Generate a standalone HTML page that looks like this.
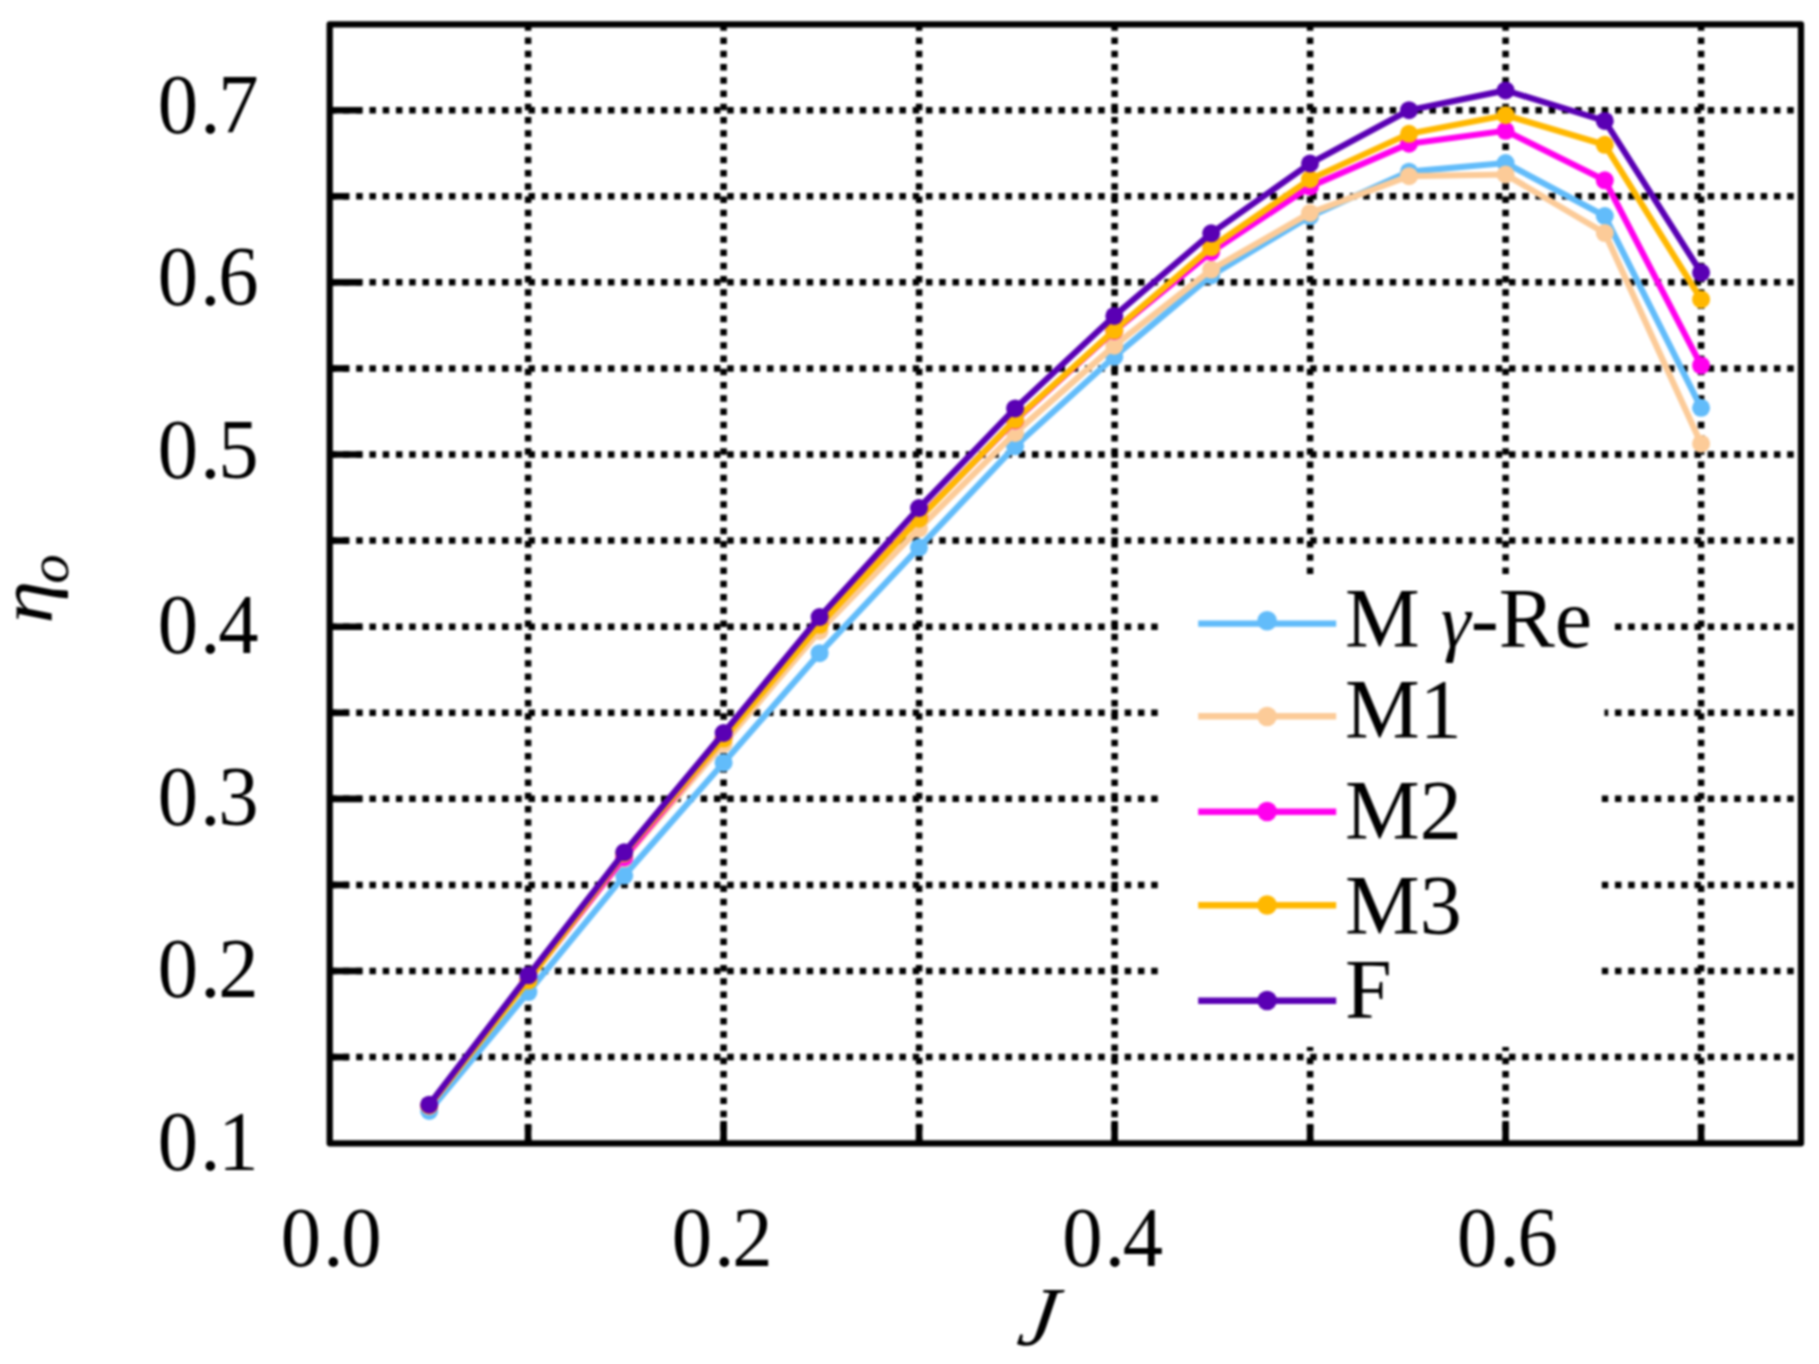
<!DOCTYPE html>
<html lang="en">
<head>
<meta charset="utf-8">
<title>Open-water efficiency versus advance coefficient</title>
<style>
html,body{margin:0;padding:0;background:#fff;}
body{width:1819px;height:1364px;overflow:hidden;}
svg text{white-space:pre;}
svg{filter:blur(1.2px);}
</style>
</head>
<body>
<svg width="1819" height="1364" viewBox="0 0 1819 1364" style="display:block">
<rect width="1819" height="1364" fill="#fff"/>
<g stroke="#000" stroke-width="6.5" stroke-dasharray="6.5 6.75" fill="none">
<line x1="329.7" y1="1057.08" x2="1801.0" y2="1057.08"/>
<line x1="329.7" y1="971.00" x2="1801.0" y2="971.00"/>
<line x1="329.7" y1="884.92" x2="1801.0" y2="884.92"/>
<line x1="329.7" y1="798.84" x2="1801.0" y2="798.84"/>
<line x1="329.7" y1="712.76" x2="1801.0" y2="712.76"/>
<line x1="329.7" y1="626.68" x2="1801.0" y2="626.68"/>
<line x1="329.7" y1="540.60" x2="1801.0" y2="540.60"/>
<line x1="329.7" y1="454.52" x2="1801.0" y2="454.52"/>
<line x1="329.7" y1="368.44" x2="1801.0" y2="368.44"/>
<line x1="329.7" y1="282.36" x2="1801.0" y2="282.36"/>
<line x1="329.7" y1="196.28" x2="1801.0" y2="196.28"/>
<line x1="329.7" y1="110.20" x2="1801.0" y2="110.20"/>
<line x1="528.10" y1="24.3" x2="528.10" y2="1143.3"/>
<line x1="723.60" y1="24.3" x2="723.60" y2="1143.3"/>
<line x1="919.10" y1="24.3" x2="919.10" y2="1143.3"/>
<line x1="1114.60" y1="24.3" x2="1114.60" y2="1143.3"/>
<line x1="1310.10" y1="24.3" x2="1310.10" y2="1143.3"/>
<line x1="1505.60" y1="24.3" x2="1505.60" y2="1143.3"/>
<line x1="1701.10" y1="24.3" x2="1701.10" y2="1143.3"/>
</g>
<g stroke="#000" stroke-width="6.6" fill="none">
<line x1="329.7" y1="1057.08" x2="348.6" y2="1057.08"/>
<line x1="329.7" y1="971.00" x2="361.8" y2="971.00"/>
<line x1="329.7" y1="884.92" x2="348.6" y2="884.92"/>
<line x1="329.7" y1="798.84" x2="361.8" y2="798.84"/>
<line x1="329.7" y1="712.76" x2="348.6" y2="712.76"/>
<line x1="329.7" y1="626.68" x2="361.8" y2="626.68"/>
<line x1="329.7" y1="540.60" x2="348.6" y2="540.60"/>
<line x1="329.7" y1="454.52" x2="361.8" y2="454.52"/>
<line x1="329.7" y1="368.44" x2="348.6" y2="368.44"/>
<line x1="329.7" y1="282.36" x2="361.8" y2="282.36"/>
<line x1="329.7" y1="196.28" x2="348.6" y2="196.28"/>
<line x1="329.7" y1="110.20" x2="361.8" y2="110.20"/>
<line x1="528.10" y1="1143.3" x2="528.10" y2="1124.4"/>
<line x1="723.60" y1="1143.3" x2="723.60" y2="1121.0"/>
<line x1="919.10" y1="1143.3" x2="919.10" y2="1124.4"/>
<line x1="1114.60" y1="1143.3" x2="1114.60" y2="1121.0"/>
<line x1="1310.10" y1="1143.3" x2="1310.10" y2="1124.4"/>
<line x1="1505.60" y1="1143.3" x2="1505.60" y2="1121.0"/>
<line x1="1701.10" y1="1143.3" x2="1701.10" y2="1124.4"/>
</g>
<rect x="1161" y="577" width="440.5" height="470" fill="#fff"/>
<rect x="1500" y="600" width="111" height="60" fill="#fff"/>
<rect x="1500" y="690" width="104.5" height="50" fill="#fff"/>
<polyline points="429.2,1110.9 528.4,992.1 624.2,875.6 723.6,762.7 819.6,653.2 919.0,547.6 1015.1,446.3 1114.3,356.7 1211.2,275.5 1310.0,216.3 1409.0,171.7 1505.6,163.0 1604.8,216.0 1701.1,407.8" fill="none" stroke="#62bcfa" stroke-width="6.2" stroke-linejoin="round" stroke-linecap="round"/>
<g fill="#62bcfa"><circle cx="429.2" cy="1110.9" r="9.0"/><circle cx="528.4" cy="992.1" r="9.0"/><circle cx="624.2" cy="875.6" r="9.0"/><circle cx="723.6" cy="762.7" r="9.0"/><circle cx="819.6" cy="653.2" r="9.0"/><circle cx="919.0" cy="547.6" r="9.0"/><circle cx="1015.1" cy="446.3" r="9.0"/><circle cx="1114.3" cy="356.7" r="9.0"/><circle cx="1211.2" cy="275.5" r="9.0"/><circle cx="1310.0" cy="216.3" r="9.0"/><circle cx="1409.0" cy="171.7" r="9.0"/><circle cx="1505.6" cy="163.0" r="9.0"/><circle cx="1604.8" cy="216.0" r="9.0"/><circle cx="1701.1" cy="407.8" r="9.0"/></g>
<polyline points="429.2,1106.0 528.4,979.5 624.2,858.5 723.6,743.6 819.6,630.9 919.0,528.6 1015.1,432.9 1114.3,345.7 1211.2,269.6 1310.0,213.0 1409.0,176.2 1505.6,174.5 1604.8,233.1 1701.1,443.7" fill="none" stroke="#fccb98" stroke-width="6.2" stroke-linejoin="round" stroke-linecap="round"/>
<g fill="#fccb98"><circle cx="429.2" cy="1106.0" r="9.0"/><circle cx="528.4" cy="979.5" r="9.0"/><circle cx="624.2" cy="858.5" r="9.0"/><circle cx="723.6" cy="743.6" r="9.0"/><circle cx="819.6" cy="630.9" r="9.0"/><circle cx="919.0" cy="528.6" r="9.0"/><circle cx="1015.1" cy="432.9" r="9.0"/><circle cx="1114.3" cy="345.7" r="9.0"/><circle cx="1211.2" cy="269.6" r="9.0"/><circle cx="1310.0" cy="213.0" r="9.0"/><circle cx="1409.0" cy="176.2" r="9.0"/><circle cx="1505.6" cy="174.5" r="9.0"/><circle cx="1604.8" cy="233.1" r="9.0"/><circle cx="1701.1" cy="443.7" r="9.0"/></g>
<polyline points="429.2,1105.5 528.4,979.5 624.2,857.2 723.6,738.0 819.6,624.0 919.0,518.0 1015.1,420.5 1114.3,331.0 1211.2,252.0 1310.0,186.6 1409.0,143.7 1505.6,130.8 1604.8,180.3 1701.1,365.4" fill="none" stroke="#ff00ee" stroke-width="6.2" stroke-linejoin="round" stroke-linecap="round"/>
<g fill="#ff00ee"><circle cx="429.2" cy="1105.5" r="9.0"/><circle cx="528.4" cy="979.5" r="9.0"/><circle cx="624.2" cy="857.2" r="9.0"/><circle cx="723.6" cy="738.0" r="9.0"/><circle cx="819.6" cy="624.0" r="9.0"/><circle cx="919.0" cy="518.0" r="9.0"/><circle cx="1015.1" cy="420.5" r="9.0"/><circle cx="1114.3" cy="331.0" r="9.0"/><circle cx="1211.2" cy="252.0" r="9.0"/><circle cx="1310.0" cy="186.6" r="9.0"/><circle cx="1409.0" cy="143.7" r="9.0"/><circle cx="1505.6" cy="130.8" r="9.0"/><circle cx="1604.8" cy="180.3" r="9.0"/><circle cx="1701.1" cy="365.4" r="9.0"/></g>
<polyline points="429.2,1105.5 528.4,980.6 624.2,853.5 723.6,738.6 819.6,624.8 919.0,518.7 1015.1,419.8 1114.3,330.3 1211.2,247.3 1310.0,179.2 1409.0,133.8 1505.6,115.2 1604.8,144.8 1701.1,299.4" fill="none" stroke="#ffb800" stroke-width="6.2" stroke-linejoin="round" stroke-linecap="round"/>
<g fill="#ffb800"><circle cx="429.2" cy="1105.5" r="9.0"/><circle cx="528.4" cy="980.6" r="9.0"/><circle cx="624.2" cy="853.5" r="9.0"/><circle cx="723.6" cy="738.6" r="9.0"/><circle cx="819.6" cy="624.8" r="9.0"/><circle cx="919.0" cy="518.7" r="9.0"/><circle cx="1015.1" cy="419.8" r="9.0"/><circle cx="1114.3" cy="330.3" r="9.0"/><circle cx="1211.2" cy="247.3" r="9.0"/><circle cx="1310.0" cy="179.2" r="9.0"/><circle cx="1409.0" cy="133.8" r="9.0"/><circle cx="1505.6" cy="115.2" r="9.0"/><circle cx="1604.8" cy="144.8" r="9.0"/><circle cx="1701.1" cy="299.4" r="9.0"/></g>
<polyline points="429.2,1104.7 528.4,975.3 624.2,852.3 723.6,733.0 819.6,617.0 919.0,508.0 1015.1,408.4 1114.3,315.9 1211.2,233.3 1310.0,163.5 1409.0,110.2 1505.6,90.4 1604.8,120.9 1701.1,272.6" fill="none" stroke="#5a00b4" stroke-width="6.2" stroke-linejoin="round" stroke-linecap="round"/>
<g fill="#5a00b4"><circle cx="429.2" cy="1104.7" r="9.0"/><circle cx="528.4" cy="975.3" r="9.0"/><circle cx="624.2" cy="852.3" r="9.0"/><circle cx="723.6" cy="733.0" r="9.0"/><circle cx="819.6" cy="617.0" r="9.0"/><circle cx="919.0" cy="508.0" r="9.0"/><circle cx="1015.1" cy="408.4" r="9.0"/><circle cx="1114.3" cy="315.9" r="9.0"/><circle cx="1211.2" cy="233.3" r="9.0"/><circle cx="1310.0" cy="163.5" r="9.0"/><circle cx="1409.0" cy="110.2" r="9.0"/><circle cx="1505.6" cy="90.4" r="9.0"/><circle cx="1604.8" cy="120.9" r="9.0"/><circle cx="1701.1" cy="272.6" r="9.0"/></g>
<rect x="329.7" y="24.3" width="1471.3" height="1119.0" fill="none" stroke="#000" stroke-width="6.3" stroke-linejoin="round"/>
<line x1="1198.2" y1="623.6" x2="1336.2" y2="623.6" stroke="#62bcfa" stroke-width="6.4"/>
<circle cx="1267.1" cy="620.8" r="9.8" fill="#62bcfa"/>
<line x1="1198.2" y1="716.3" x2="1336.2" y2="716.3" stroke="#fccb98" stroke-width="6.4"/>
<circle cx="1267.1" cy="716.5" r="9.8" fill="#fccb98"/>
<line x1="1198.2" y1="811.7" x2="1336.2" y2="811.7" stroke="#ff00ee" stroke-width="6.4"/>
<circle cx="1267.1" cy="811.5" r="9.8" fill="#ff00ee"/>
<line x1="1198.2" y1="905.3" x2="1336.2" y2="905.3" stroke="#ffb800" stroke-width="6.4"/>
<circle cx="1267.1" cy="905.0" r="9.8" fill="#ffb800"/>
<line x1="1198.2" y1="1000.7" x2="1336.2" y2="1000.7" stroke="#5a00b4" stroke-width="6.4"/>
<circle cx="1267.1" cy="1000.5" r="9.8" fill="#5a00b4"/>
<g font-family="'Liberation Serif', serif" font-size="84" fill="#000">
<text x="1345" y="647.1">M <tspan font-style="italic" font-size="76">γ</tspan>-Re</text>
<text x="1345" y="738.2">M1</text>
<text x="1345" y="839.0">M2</text>
<text x="1345" y="934.4">M3</text>
<text x="1345" y="1017.8">F</text>
<text transform="translate(258.6,133.0) scale(0.96,1)" text-anchor="end">0<tspan dx="2.2">.</tspan><tspan dx="-2.2">7</tspan></text>
<text transform="translate(258.6,305.1) scale(0.96,1)" text-anchor="end">0<tspan dx="2.2">.</tspan><tspan dx="-2.2">6</tspan></text>
<text transform="translate(258.6,477.5) scale(0.96,1)" text-anchor="end">0<tspan dx="2.2">.</tspan><tspan dx="-2.2">5</tspan></text>
<text transform="translate(258.6,653.3) scale(0.96,1)" text-anchor="end">0<tspan dx="2.2">.</tspan><tspan dx="-2.2">4</tspan></text>
<text transform="translate(258.6,825.3) scale(0.96,1)" text-anchor="end">0<tspan dx="2.2">.</tspan><tspan dx="-2.2">3</tspan></text>
<text transform="translate(258.6,997.4) scale(0.96,1)" text-anchor="end">0<tspan dx="2.2">.</tspan><tspan dx="-2.2">2</tspan></text>
<text transform="translate(258.6,1170.4) scale(0.96,1)" text-anchor="end">0<tspan dx="2.2">.</tspan><tspan dx="-2.2">1</tspan></text>
<text transform="translate(331.25,1266.2) scale(0.96,1)" text-anchor="middle">0<tspan dx="2.2">.</tspan><tspan dx="-2.2">0</tspan></text>
<text transform="translate(722.10,1266.2) scale(0.96,1)" text-anchor="middle">0<tspan dx="2.2">.</tspan><tspan dx="-2.2">2</tspan></text>
<text transform="translate(1112.65,1266.2) scale(0.96,1)" text-anchor="middle">0<tspan dx="2.2">.</tspan><tspan dx="-2.2">4</tspan></text>
<text transform="translate(1507.35,1266.2) scale(0.96,1)" text-anchor="middle">0<tspan dx="2.2">.</tspan><tspan dx="-2.2">6</tspan></text>
<text transform="translate(1015.5,1345) skewX(-9)" font-style="italic">J</text>
<g transform="translate(52.2,623.4) rotate(-90) scale(1.03,0.91)"><text x="0" y="0" font-style="italic">η</text></g>
<g transform="translate(68.0,583.7) rotate(-90) scale(1.04,1)"><text x="0" y="0" font-style="italic" font-size="57">o</text></g>
</g>
</svg>
</body>
</html>
